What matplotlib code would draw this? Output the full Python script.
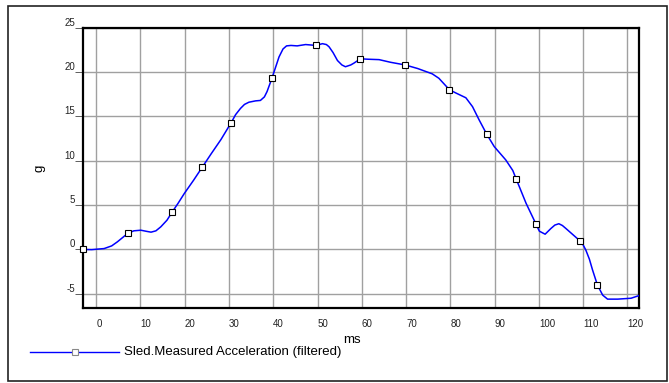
import matplotlib
matplotlib.use("Agg")
import matplotlib.pyplot as plt
from matplotlib.lines import Line2D
from matplotlib.patches import Rectangle

plt.rcParams['font.family'] = ['Liberation Sans', 'DejaVu Sans']
plt.rcParams['axes.unicode_minus'] = False

# curve (ms, g)
t = [-2.9, -1.0, 1.8, 3.5, 4.8, 6.0, 7.1, 8.5, 10.1, 11.3, 12.4, 13.5, 14.6, 16.0,
     17.2, 18.5, 19.9, 22.0, 24.0, 26.0, 28.2, 30.5, 31.5, 32.6, 33.5, 34.5, 36.0,
     37.1, 38.0, 38.6, 39.7, 40.5, 41.3, 42.2, 43.0, 44.0, 45.4, 47.3, 49.7, 51.1,
     52.0, 52.6, 53.5, 54.5, 55.5, 56.3, 57.5, 58.2, 59.7, 61.2, 63.9, 66.5, 69.8,
     72.6, 75.9, 77.4, 79.8, 81.2, 83.5, 85.0, 86.5, 88.2, 89.9, 92.5, 94.1, 94.9,
     97.1, 99.3, 100.1, 101.4, 102.7, 103.6, 104.5, 105.3, 106.1, 107.6, 109.2, 110.0,
     110.6, 111.4, 112.1, 113.2, 114.4, 115.5, 117.8, 120.8, 122.6]
g = [0.0, -0.02, 0.1, 0.4, 0.86, 1.35, 1.8, 2.1, 2.17, 2.05, 1.95, 2.1, 2.55, 3.3,
     4.24, 5.2, 6.3, 7.8, 9.3, 10.8, 12.4, 14.3, 15.2, 15.9, 16.35, 16.6, 16.75,
     16.8, 17.2, 17.8, 19.3, 20.5, 21.7, 22.6, 22.95, 23.0, 22.95, 23.1, 23.0, 23.2,
     23.1, 22.85, 22.2, 21.3, 20.8, 20.6, 20.8, 21.0, 21.5, 21.45, 21.4, 21.1, 20.8,
     20.4, 19.8, 19.3, 18.0, 17.65, 17.1, 16.1, 14.6, 13.0, 11.6, 10.1, 8.9, 7.9,
     5.2, 2.9, 2.06, 1.72, 2.36, 2.75, 2.9, 2.7, 2.36, 1.7, 1.0, 0.5,
     -0.08, -1.1, -2.3, -4.0, -5.15, -5.6, -5.6, -5.5, -5.2]

# square markers on the curve
mark_t = [-2.9, 7.1, 17.2, 24.0, 30.5, 39.7, 49.7, 59.7, 69.8, 79.8, 88.2, 94.9, 99.3, 109.2, 113.2]
mark_g = [0.0, 1.8, 4.24, 9.3, 14.3, 19.3, 23.0, 21.5, 20.8, 18.0, 13.0, 7.9, 2.9, 1.0, -4.0]

x_ticks = list(range(0, 121, 10))
y_ticks = [-5, 0, 5, 10, 15, 20, 25]
series_name = "Sled.Measured Acceleration (filtered)"

W, H = 669, 383
fig = plt.figure(figsize=(W / 100, H / 100), dpi=100)
ax = fig.add_axes([83.3 / W, 1 - 308 / H, (639 - 83.3) / W, (308 - 27.7) / H])

ax.plot(t, g, color='#0000ff', lw=1.1, zorder=3)
ax.plot(mark_t, mark_g, ls='none', marker='s', ms=4.3, mfc='white', mec='black',
        mew=0.8, zorder=4, clip_on=False)

ax.set_xlim(-2.9, 122.6)
ax.set_ylim(-6.6, 25)
ax.set_xticks(x_ticks)
ax.set_yticks(y_ticks)
ax.grid(True, color='#a0a0a0', lw=1.0)
ax.set_axisbelow(True)
for s in ax.spines.values():
    s.set_linewidth(1.6)
    s.set_color('black')

ax.tick_params(axis='x', length=0, pad=8, labelsize=7, labelcolor='#222222')
ax.tick_params(axis='y', length=6, width=0.6, color='#444444', pad=0,
               labelsize=7, labelcolor='#222222')
for lbl in ax.get_xticklabels():
    lbl.set_horizontalalignment('left')
for lbl in ax.get_yticklabels():
    lbl.set_verticalalignment('bottom')

fig.text(40 / W, 1 - 168 / H, 'g', rotation=90, ha='center', va='center', fontsize=9.5)
fig.text(352 / W, 1 - 340 / H, 'ms', ha='center', va='center', fontsize=9.5)

# legend row
fig.add_artist(Line2D([30 / W, 118.6 / W], [1 - 352 / H, 1 - 352 / H], color='#0000ff', lw=1.0))
fig.add_artist(Line2D([74.7 / W], [1 - 352 / H], ls='none', marker='s', ms=4, mfc='white',
                      mec='#888888', mew=0.8))
fig.text(123.7 / W, 1 - 352 / H, series_name, ha='left', va='center', fontsize=9.5)

fig.add_artist(Rectangle((8 / W, 1 - 381 / H), 659 / W, 375 / H, transform=fig.transFigure,
                         fill=False, ec='#222222', lw=1.2))

fig.savefig('out.png', dpi=100)
